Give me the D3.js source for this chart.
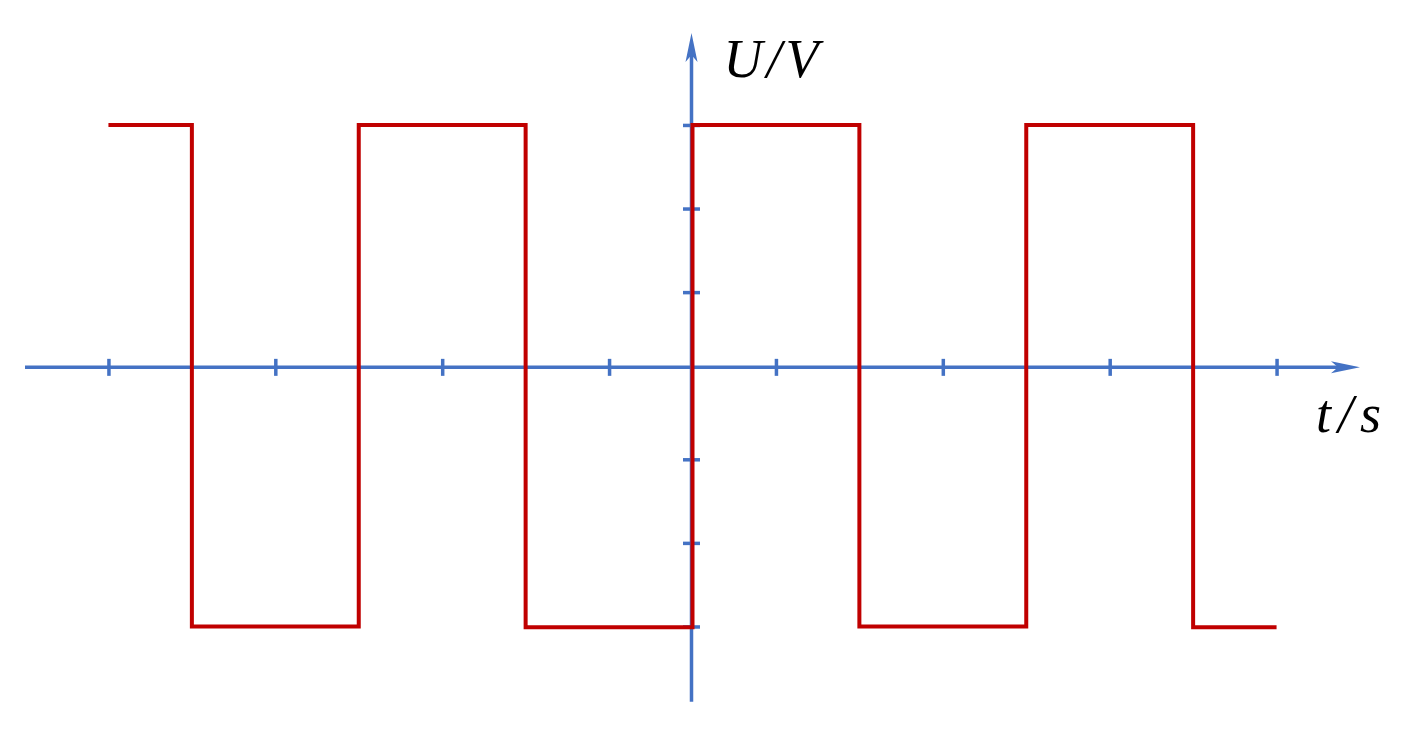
<!DOCTYPE html>
<html>
<head>
<meta charset="utf-8">
<script src="https://cdn.jsdelivr.net/npm/d3@7/dist/d3.min.js"></script>
<style>
  html, body { margin: 0; padding: 0; background: #fff; }
  svg { display: block; }
</style>
</head>
<body>
<svg id="chart" width="1410" height="732"></svg>
<script>
// ---- data ----
const waveTimes  = [-7, -6, -4, -2, 0, 2, 4, 6, 7];
const waveValues = [3, -3, 3, -3.01, 3, -3, 3, -3.01, -3.01];
const xTickValues = [-7, -5, -3, -1, 1, 3, 5, 7];
const yTickValues = [-3, -2, -1, 1, 2, 3];
const xAxisExtent = [-8, 8];
const yAxisExtent = [-3.9, 4.1];
const xAxisLevel = 0.1;   // value where horizontal axis is drawn
const xLabel = "t/s";
const yLabel = "U/V";

// ---- setup ----
const W = 1410, H = 732;
const blue = "#4472C4", red = "#C00000";
const svg = d3.select("#chart");

const x = d3.scaleLinear().domain(xAxisExtent).range([25, 1360]);
const y = d3.scaleLinear().domain(yAxisExtent).range([701.7, 33]);

const arrowLen = 29, arrowHalf = 6, notch = 7;

// horizontal axis
const xAxisG = svg.append("g")
  .attr("transform", `translate(0,${y(xAxisLevel)})`)
  .call(d3.axisBottom(x).tickValues(xTickValues).tickSizeOuter(0).tickSize(16).tickFormat(""));
xAxisG.select(".domain").remove();
xAxisG.append("line")
  .attr("x1", x(xAxisExtent[0])).attr("x2", x(xAxisExtent[1]) - arrowLen + notch + 2)
  .attr("y1", 0).attr("y2", 0)
  .attr("stroke", blue).attr("stroke-width", 3.5);
xAxisG.selectAll(".tick line")
  .attr("y1", -8.5).attr("y2", 8.5)
  .attr("stroke", blue).attr("stroke-width", 3.5);
{
  const tx = x(xAxisExtent[1]);
  xAxisG.append("path")
    .attr("d", `M${tx},0 L${tx - arrowLen},${-arrowHalf} L${tx - arrowLen + notch},0 L${tx - arrowLen},${arrowHalf} Z`)
    .attr("fill", blue);
}

// vertical axis
const yAxisG = svg.append("g")
  .attr("transform", `translate(${x(0) - 1},0)`)
  .call(d3.axisLeft(y).tickValues(yTickValues).tickSizeOuter(0).tickSize(16).tickFormat(""));
yAxisG.select(".domain").remove();
yAxisG.append("line")
  .attr("y1", y(yAxisExtent[0])).attr("y2", y(yAxisExtent[1]) + arrowLen - notch - 2)
  .attr("x1", 0).attr("x2", 0)
  .attr("stroke", blue).attr("stroke-width", 3.5);
yAxisG.selectAll(".tick line")
  .attr("x1", -8.5).attr("x2", 8.5)
  .attr("stroke", blue).attr("stroke-width", 3.5);
{
  const ty = y(yAxisExtent[1]);
  yAxisG.append("path")
    .attr("d", `M0,${ty} L${-arrowHalf},${ty + arrowLen} L0,${ty + arrowLen - notch} L${arrowHalf},${ty + arrowLen} Z`)
    .attr("fill", blue);
}

// square wave
const wave = waveTimes.map((t, i) => ({ t, v: waveValues[i] }));
const line = d3.line().x(d => x(d.t)).y(d => y(d.v)).curve(d3.curveStepAfter);
svg.append("path")
  .datum(wave)
  .attr("d", line)
  .attr("fill", "none")
  .attr("stroke", red)
  .attr("stroke-width", 4)
  .attr("stroke-linejoin", "miter")
  .attr("stroke-linecap", "butt");

// labels
svg.append("text")
  .attr("x", x(0) + 31).attr("y", 77)
  .attr("font-family", "'Liberation Serif', serif")
  .attr("font-style", "italic")
  .attr("font-size", 54)
  .attr("letter-spacing", 4)
  .attr("fill", "#000")
  .text(yLabel);

svg.append("text")
  .attr("x", 1316).attr("y", 432)
  .attr("font-family", "'Liberation Serif', serif")
  .attr("font-style", "italic")
  .attr("font-size", 54)
  .attr("letter-spacing", 7)
  .attr("fill", "#000")
  .text(xLabel);
</script>
</body>
</html>
